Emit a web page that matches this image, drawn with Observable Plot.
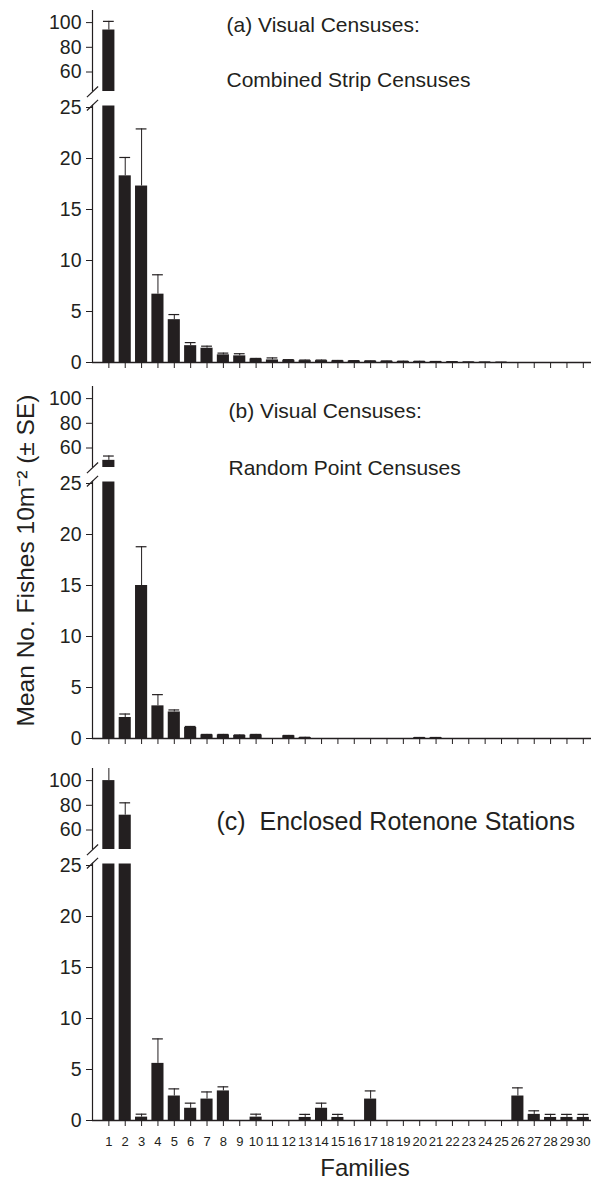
<!DOCTYPE html>
<html>
<head>
<meta charset="utf-8">
<script src="https://cdn.jsdelivr.net/npm/d3@7"></script>
<script src="https://cdn.jsdelivr.net/npm/@observablehq/plot@0.6"></script>
<style>
  html, body { margin: 0; padding: 0; background: #fff; }
  #chart { width: 591px; }
  #chart svg { display: block; }
</style>
</head>
<body>
<div id="chart"></div>
<script>
// ---------- data ----------
const families = d3.range(1, 31);

// (a) Visual Censuses: Combined Strip Censuses
const stripMean = [94, 18.3, 17.3, 6.7, 4.2, 1.65, 1.4, 0.75, 0.65, 0.35, 0.25, 0.22, 0.18, 0.18, 0.16, 0.14, 0.13, 0.12, 0.1, 0.1, 0.08, 0.06, 0.04, 0.03, 0.02, 0, 0, 0, 0, 0];
const stripSE   = [7, 1.8, 5.6, 1.9, 0.5, 0.3, 0.2, 0.17, 0.21, 0.05, 0.2, 0.06, 0.06, 0.06, 0.04, 0.04, 0.03, 0.03, 0.03, 0.02, 0.02, 0.02, 0.01, 0.01, 0.01, 0, 0, 0, 0, 0];

// (b) Visual Censuses: Random Point Censuses
const pointMean = [50, 2.06, 15.0, 3.2, 2.6, 1.08, 0.36, 0.35, 0.3, 0.35, 0, 0.27, 0.1, 0, 0, 0, 0, 0, 0, 0.08, 0.08, 0, 0, 0, 0, 0, 0, 0, 0, 0];
const pointSE   = [3.5, 0.34, 3.8, 1.1, 0.2, 0.1, 0.04, 0.05, 0.05, 0.05, 0, 0.03, 0.02, 0, 0, 0, 0, 0, 0, 0.02, 0.02, 0, 0, 0, 0, 0, 0, 0, 0, 0];

// (c) Enclosed Rotenone Stations
const rotMean = [100, 72, 0.33, 5.6, 2.4, 1.2, 2.1, 2.9, 0, 0.33, 0, 0, 0.3, 1.2, 0.3, 0, 2.1, 0, 0, 0, 0, 0, 0, 0, 0, 2.4, 0.6, 0.3, 0.3, 0.3];
const rotSE   = [12, 10, 0.29, 2.4, 0.7, 0.5, 0.7, 0.4, 0, 0.29, 0, 0, 0.3, 0.5, 0.3, 0, 0.8, 0, 0, 0, 0, 0, 0, 0, 0, 0.8, 0.35, 0.3, 0.3, 0.3];

const yTickValues = [0, 5, 10, 15, 20, 25, 60, 80, 100];
const titlesA = ["(a) Visual Censuses:", "Combined Strip Censuses"];
const titlesB = ["(b) Visual Censuses:", "Random Point Censuses"];
const titlesC = ["(c)  Enclosed Rotenone Stations"];
const yLabel = "Mean No. Fishes 10m\u207B\u00B2 (\u00B1 SE)";
const xLabel = "Families";

// ---------- broken-axis mapping ----------
const LOW_MAX = 25;     // top of lower section
const HIGH_MIN = 44.2;  // bottom of upper section
const LOW_K = 10.2;     // units per value in lower section
const HIGH_K = 1.235;   // units per value in upper section
const T = v => v <= LOW_MAX ? v * LOW_K : LOW_MAX * LOW_K + 35.5 - (60 - v) * HIGH_K;
const Y_TOP = 352;
const gapLow = T(LOW_MAX) + 1.5;
const gapHigh = T(HIGH_MIN);
const breakCenters = [T(LOW_MAX) + 2.3, gapHigh - 0.3];

const INK = "#231f20";
const FONT = "'Liberation Sans', Arial, Helvetica, sans-serif";
const tickLabel = new Map(yTickValues.map(v => [T(v), String(v)]));

function panel({mean, se, height, marginTop, marginBottom, extraMarks, showXLabels}) {
  const data = families.map((f, i) => ({f, v: mean[i], e: mean[i] + se[i]})).filter(d => d.v > 0);
  const err = data.filter(d => d.e > d.v);
  return Plot.plot({
    width: 591,
    height,
    marginLeft: 92,
    marginRight: 0,
    marginTop,
    marginBottom,
    style: {fontFamily: FONT, color: INK, background: "#fff", overflow: "visible"},
    x: {type: "linear", domain: [0, 30.5]},
    y: {domain: [0, Y_TOP]},
    marks: [
      Plot.rect(data, {x1: d => d.f - 0.37, x2: d => d.f + 0.37, y1: () => 0, y2: d => T(d.v), fill: INK}),
      Plot.ruleX(err, {x: "f", y1: d => T(d.v), y2: d => T(d.e), stroke: INK, strokeWidth: 1, clip: true}),
      Plot.ruleY(err, {y: d => T(d.e), x1: d => d.f - 0.33, x2: d => d.f + 0.33, stroke: INK, strokeWidth: 1.2, clip: true}),
      // white band of the axis break
      Plot.rect([0], {x1: () => 0, x2: () => 30.5, y1: () => gapLow, y2: () => gapHigh, fill: "#fff"}),
      // broken y axis line
      Plot.ruleX([0], {y1: () => 0, y2: () => breakCenters[0], stroke: INK, strokeWidth: 1.2}),
      Plot.ruleX([0], {y1: () => breakCenters[1], y2: () => Y_TOP, stroke: INK, strokeWidth: 1.2}),
      Plot.link(breakCenters, {x1: () => -0.34, x2: () => 0.34, y1: d => d - 5.3, y2: d => d + 5.3, stroke: INK, strokeWidth: 1.2}),
      Plot.ruleY([0], {stroke: INK, strokeWidth: 1.3}),
      Plot.axisY({ticks: yTickValues.map(T), tickFormat: t => tickLabel.get(t), tickSize: 6, tickPadding: 5, fontSize: 19.5, label: null}),
      Plot.axisX({ticks: families, tickSize: 6, tickPadding: 10, fontSize: 13, label: null,
                  tickFormat: showXLabels ? (d => String(d)) : (() => "")}),
      ...extraMarks
    ]
  });
}

function titleMarks(lines, dx, dys, fontSize) {
  return lines.map((t, i) => Plot.text([t], {text: d => d, frameAnchor: "top-left", dx, dy: dys[i],
    textAnchor: "start", lineAnchor: "middle", fontSize, fill: INK}));
}

const chart = document.getElementById("chart");
chart.append(panel({mean: stripMean, se: stripSE, height: 376, marginTop: 10, marginBottom: 14,
  showXLabels: false, extraMarks: titleMarks(titlesA, 134, [15, 70], 21)}));
chart.append(panel({mean: pointMean, se: pointSE, height: 376, marginTop: 10, marginBottom: 14,
  showXLabels: false, extraMarks: [
    ...titleMarks(titlesB, 136, [25, 82], 21),
    Plot.text([yLabel], {text: d => d, frameAnchor: "left", dx: -66, dy: -2, rotate: -90,
      textAnchor: "middle", lineAnchor: "middle", fontSize: 24.5, fill: INK})
  ]}));
chart.append(panel({mean: rotMean, se: rotSE, height: 430, marginTop: 16, marginBottom: 62,
  showXLabels: true, extraMarks: [
    ...titleMarks(titlesC, 124, [53], 25),
    Plot.text([xLabel], {text: d => d, frameAnchor: "bottom", dx: 23, dy: 48, textAnchor: "middle", lineAnchor: "middle", fontSize: 24, fill: INK})
  ]}));
</script>
</body>
</html>
